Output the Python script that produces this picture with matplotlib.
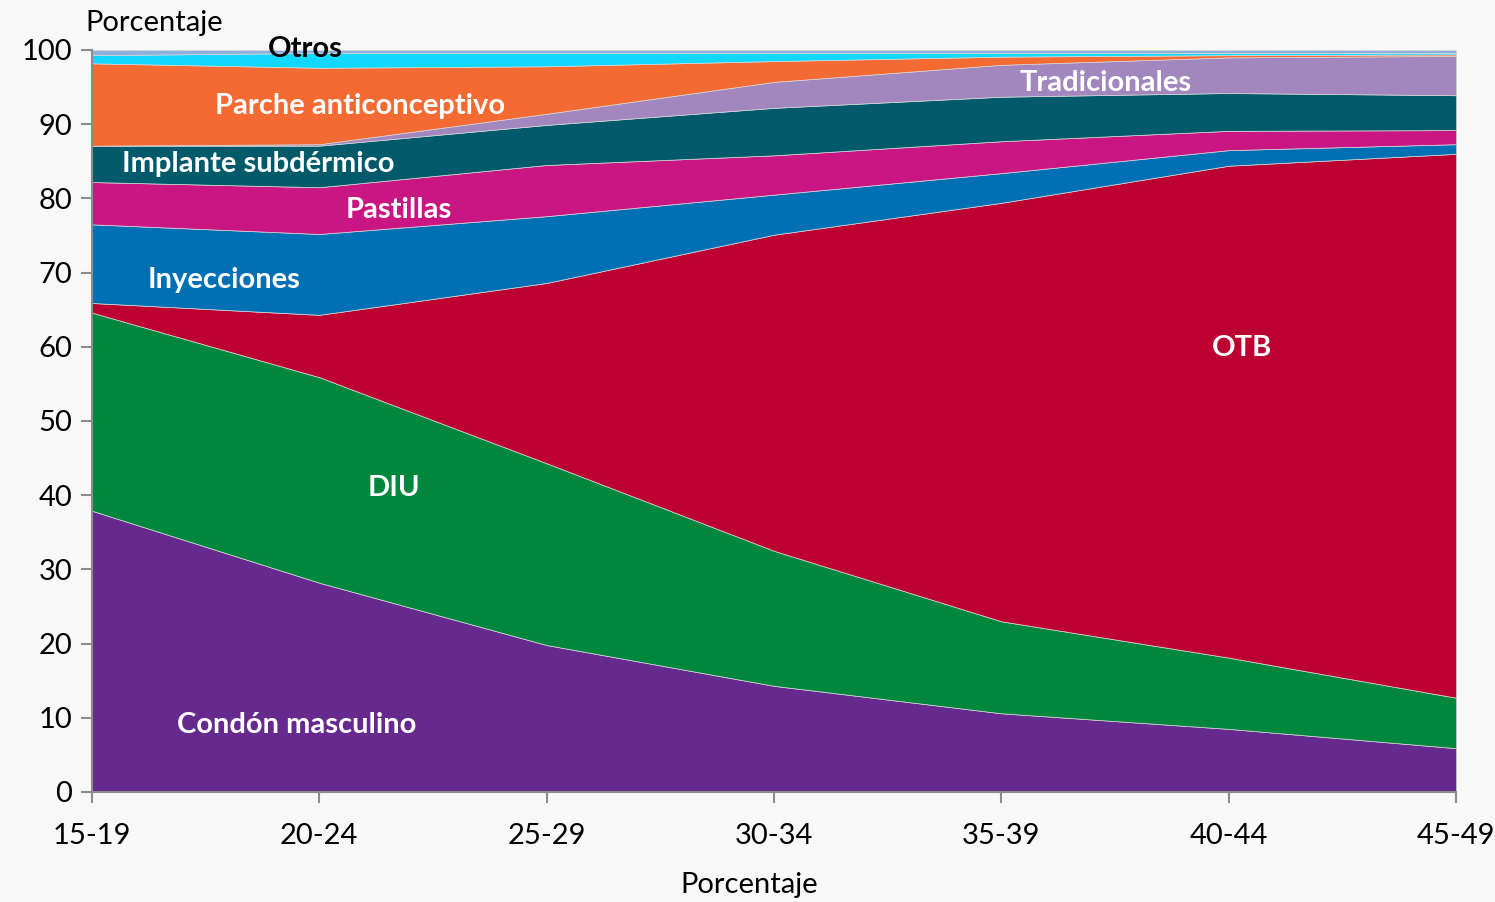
import numpy as np
import matplotlib.pyplot as plt

plt.rcParams['font.family'] = ['Lato', 'DejaVu Sans']

grupos = ["15-19", "20-24", "25-29", "30-34", "35-39", "40-44", "45-49"]

# porcentaje de cada método
condon = [37.9, 28.2, 19.8, 14.3, 10.6, 8.5, 5.9]
diu = [26.7, 27.7, 24.5, 18.2, 12.4, 9.6, 6.8]
otb = [1.3, 8.4, 24.3, 42.6, 56.4, 66.3, 73.3]
inyecciones = [10.6, 10.9, 9.0, 5.4, 4.0, 2.1, 1.3]
pastillas = [5.7, 6.3, 6.9, 5.3, 4.3, 2.6, 1.9]
implante = [4.9, 5.6, 5.4, 6.4, 6.0, 5.1, 4.7]
tradicionales = [0.0, 0.2, 1.5, 3.5, 4.3, 4.8, 5.3]
parche = [11.1, 10.3, 6.4, 2.8, 1.1, 0.3, 0.2]
condon_fem = [1.1, 2.0, 1.8, 1.1, 0.5, 0.3, 0.2]
otros = [0.7, 0.4, 0.4, 0.4, 0.4, 0.4, 0.4]

colores = ["#662A8E", "#00873E", "#BC0031", "#0070B5", "#CA1683",
           "#005A6A", "#A287BE", "#F46A33", "#12D8FF", "#8EB0DC"]

fig = plt.figure(figsize=(14.95, 9.02), dpi=100)
fig.patch.set_facecolor("#F8F8F8")
ax = fig.add_axes([0.0615, 0.122, 0.9125, 0.8226])
ax.set_facecolor("#F8F8F8")

x = np.arange(len(grupos))
ax.stackplot(x, condon, diu, otb, inyecciones, pastillas, implante,
             tradicionales, parche, condon_fem, otros,
             colors=colores, edgecolor="#d8d8d8", linewidth=0.5)

ax.set_xlim(0, 6)
ax.set_ylim(0, 100)
ax.set_xticks(x)
ax.set_xticklabels(grupos)
ax.set_yticks(range(0, 101, 10))
for s in ["top", "right"]:
    ax.spines[s].set_visible(False)
for s in ["left", "bottom"]:
    ax.spines[s].set_color("#8c8c8c")
    ax.spines[s].set_linewidth(1.5)
ax.tick_params(colors="#8c8c8c", width=1.5, length=8, labelsize=21,
               labelcolor="black")
ax.tick_params(axis="x", pad=14)
ax.tick_params(axis="y", pad=6)

ax.set_xlabel("Porcentaje", fontsize=21)
ax.xaxis.set_label_coords(0.482, -0.108)
fig.text(0.057, 0.975, "Porcentaje", fontsize=21, ha="left", va="center")

etiquetas = [
    ("Otros", 0.94, 100.1, "black"),
    ("Parche anticonceptivo", 1.18, 92.4, "white"),
    ("Implante subdérmico", 0.73, 84.6, "white"),
    ("Pastillas", 1.35, 78.4, "white"),
    ("Inyecciones", 0.58, 69.0, "white"),
    ("OTB", 5.06, 59.9, "white"),
    ("DIU", 1.33, 40.9, "white"),
    ("Condón masculino", 0.9, 9.0, "white"),
    ("Tradicionales", 4.46, 95.6, "white"),
]
for texto, xi, yi, c in etiquetas:
    ax.text(xi, yi, texto, color=c, fontsize=21, fontweight="bold",
            ha="center", va="center", clip_on=False)

fig.savefig("out.png", dpi=100, facecolor=fig.get_facecolor())
